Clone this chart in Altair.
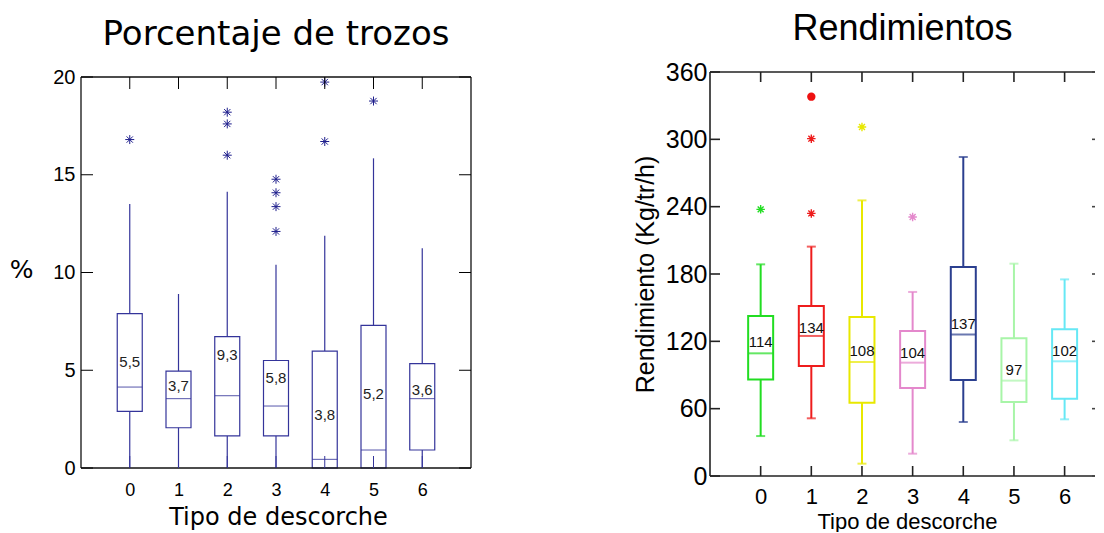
import altair as alt
import pandas as pd

cats = [0, 1, 2, 3, 4, 5, 6]

# ---- Left panel: Porcentaje de trozos ----
p_q1 = [2.9, 2.06, 1.64, 1.64, 0.0, 0.0, 0.92]
p_med = [4.14, 3.55, 3.7, 3.17, 0.44, 0.92, 3.55]
p_q3 = [7.9, 4.96, 6.72, 5.5, 5.98, 7.3, 5.34]
p_lo = [0, 0, 0, 0, 0, 0, 0]
p_hi = [13.5, 8.9, 14.13, 10.4, 11.88, 15.84, 11.24]
p_labels = ["5,5", "3,7", "9,3", "5,8", "3,8", "5,2", "3,6"]
p_label_y = [5.4, 4.2, 5.76, 4.6, 2.73, 3.8, 4.0]
p_out_cat = [0, 2, 2, 2, 3, 3, 3, 3, 4, 4, 5]
p_out_val = [16.8, 18.2, 17.6, 16.0, 14.77, 14.08, 13.37, 12.1, 19.74, 16.7, 18.77]
p_yticks = [0, 5, 10, 15, 20]

# ---- Right panel: Rendimientos ----
r_q1 = [86.1, 98.0, 65.3, 78.4, 85.5, 65.9, 68.9]
r_med = [109.3, 124.8, 101.6, 101.0, 126.2, 85.0, 102.2]
r_q3 = [142.6, 151.5, 141.7, 129.2, 186.2, 122.7, 130.7]
r_lo = [35.6, 51.4, 11.0, 19.9, 48.1, 31.8, 50.5]
r_hi = [188.6, 204.4, 245.6, 164.0, 284.3, 189.2, 175.2]
r_labels = ["114", "134", "108", "104", "137", "97", "102"]
r_label_y = [119.4, 132.2, 111.4, 109.3, 135.1, 94.5, 111.4]
r_colors = ["#22dd22", "#ee1c1c", "#e8e800", "#e488cc", "#2b3f8f", "#a8f5a8", "#66e8f5"]
r_out_cat = [0, 1, 1, 2, 3]
r_out_val = [237.6, 234.0, 300.6, 311.0, 230.8]
r_dot_cat = [1]
r_dot_val = [338.0]
r_yticks = [0, 60, 120, 180, 240, 300, 360]

ASTER = "M0,-1L0,1M-1,0L1,0M-0.7,-0.7L0.7,0.7M-0.7,0.7L0.7,-0.7"

# ---------------- left chart ----------------
LW, LH = 390, 396      # view size; data area starts 5px below view top
LTOP = 5
NAVY = "#34349a"
ldf = pd.DataFrame({"cat": cats, "q1": p_q1, "med": p_med, "q3": p_q3,
                    "lo": p_lo, "hi": p_hi, "lab": p_labels, "laby": p_label_y})
lout = pd.DataFrame({"cat": p_out_cat, "v": p_out_val})
lyt = pd.DataFrame({"v": p_yticks})
lct = pd.DataFrame({"cat": cats})
lfr = pd.DataFrame({"top": [p_yticks[-1]], "bot": [p_yticks[0]]})

lxs = alt.Scale(domain=[-1, 7], nice=False, zero=False, padding=0)
lys = alt.Scale(domain=[0, 20], nice=False, range=[LH, LTOP])

lx_axis = alt.Axis(values=cats, ticks=False, tickSize=0, domain=False, grid=False,
                   labelFontSize=18, labelFont="Liberation Sans", labelColor="black",
                   labelPadding=13, title="Tipo de descorche", titleFont="DejaVu Sans",
                   titleFontSize=24, titleFontWeight="normal", titleColor="black",
                   titleBaseline="middle", titleAlign="center", titleY=49, titleX=197)
ly_axis = alt.Axis(values=p_yticks, ticks=False, tickSize=0, domain=False, grid=False,
                   labelFontSize=20, labelFont="Liberation Sans", labelColor="black",
                   labelPadding=6, title="%", titleFont="DejaVu Sans", titleFontSize=25,
                   titleFontWeight="normal", titleColor="black", titleAngle=0,
                   titleAlign="center", titleBaseline="middle", titleX=-60, titleY=197)

lbox = alt.Chart(ldf).mark_bar(size=25, fillOpacity=0, stroke=NAVY, strokeWidth=1.2).encode(
    x=alt.X("cat:Q", scale=lxs, axis=lx_axis),
    y=alt.Y("q1:Q", scale=lys, axis=ly_axis),
    y2="q3:Q")
lmed = alt.Chart(ldf).mark_tick(orient="horizontal", size=25, thickness=1.2, color=NAVY).encode(
    x=alt.X("cat:Q", scale=lxs), y=alt.Y("med:Q", scale=lys))
lwu = alt.Chart(ldf).mark_rule(color=NAVY, strokeWidth=1.2).encode(
    x=alt.X("cat:Q", scale=lxs), y=alt.Y("q3:Q", scale=lys), y2="hi:Q")
lwl = alt.Chart(ldf).mark_rule(color=NAVY, strokeWidth=1.2).encode(
    x=alt.X("cat:Q", scale=lxs), y=alt.Y("lo:Q", scale=lys), y2="q1:Q")
lol = alt.Chart(lout).mark_point(shape=ASTER, size=81, filled=False, color="#1e1e8c",
                                 strokeWidth=1.0, opacity=1).encode(
    x=alt.X("cat:Q", scale=lxs), y=alt.Y("v:Q", scale=lys))
ltxt = alt.Chart(ldf).mark_text(font="Liberation Sans", fontSize=15, color="#222").encode(
    x=alt.X("cat:Q", scale=lxs), y=alt.Y("laby:Q", scale=lys), text="lab:N")
# frame
lft = alt.Chart(lfr).mark_rule(color="#111", strokeWidth=1.3).encode(
    y=alt.Y("top:Q", scale=lys), x=alt.value(0), x2=alt.value(LW))
lfb = alt.Chart(lfr).mark_rule(color="#111", strokeWidth=1.3).encode(
    y=alt.Y("bot:Q", scale=lys), x=alt.value(0), x2=alt.value(LW))
lfl = alt.Chart(lfr).mark_rule(color="#111", strokeWidth=1.3).encode(
    y=alt.Y("bot:Q", scale=lys), y2="top:Q", x=alt.value(0))
lfrr = alt.Chart(lfr).mark_rule(color="#111", strokeWidth=1.3).encode(
    y=alt.Y("bot:Q", scale=lys), y2="top:Q", x=alt.value(LW))
# inward ticks
ltt = alt.Chart(lct).mark_rule(color="black", strokeWidth=1).encode(
    x=alt.X("cat:Q", scale=lxs), y=alt.value(LTOP), y2=alt.value(LTOP + 12))
ltb = alt.Chart(lct).mark_rule(color=NAVY, strokeWidth=1).encode(
    x=alt.X("cat:Q", scale=lxs), y=alt.value(LH - 12), y2=alt.value(LH))
ltl = alt.Chart(lyt).mark_rule(color="black", strokeWidth=1).encode(
    y=alt.Y("v:Q", scale=lys), x=alt.value(0), x2=alt.value(12))
ltr = alt.Chart(lyt).mark_rule(color="black", strokeWidth=1).encode(
    y=alt.Y("v:Q", scale=lys), x=alt.value(LW - 12), x2=alt.value(LW))

left = alt.layer(lbox, lwu, lwl, lmed, lol, ltxt, lft, lfb, lfl, lfrr,
                 ltt, ltb, ltl, ltr).properties(
    width=LW, height=LH,
    title=alt.TitleParams("Porcentaje de trozos", font="DejaVu Sans", fontSize=34,
                          fontWeight="normal", color="black", anchor="middle", offset=15))

# ---------------- right chart ----------------
RW, RH = 385, 404     # visible part of the view (the axis frame itself runs past the page edge)
RXMAX = 6.6
rdf = pd.DataFrame({"cat": cats, "q1": r_q1, "med": r_med, "q3": r_q3, "lo": r_lo,
                    "hi": r_hi, "lab": r_labels, "laby": r_label_y, "col": r_colors})
rout = pd.DataFrame({"cat": r_out_cat, "v": r_out_val,
                     "col": [r_colors[c] for c in r_out_cat]})
rdot = pd.DataFrame({"cat": r_dot_cat, "v": r_dot_val})
ryt = pd.DataFrame({"v": r_yticks})
rct = pd.DataFrame({"cat": cats})
rfr = pd.DataFrame({"top": [r_yticks[-1]], "bot": [r_yticks[0]]})

rxs = alt.Scale(domain=[-1, RXMAX], nice=False, zero=False, padding=0)
rys = alt.Scale(domain=[0, 360], nice=False)
col = alt.Color("col:N", scale=None)

rx_axis = alt.Axis(values=cats, ticks=False, tickSize=0, domain=False, grid=False,
                   labelFontSize=22, labelFont="Liberation Sans", labelColor="black",
                   labelPadding=10, title="Tipo de descorche", titleFont="Liberation Sans",
                   titleFontSize=22, titleFontWeight="normal", titleColor="black",
                   titleBaseline="middle", titleAlign="center", titleY=45, titleX=197)
ry_axis = alt.Axis(values=r_yticks, ticks=False, tickSize=0, domain=False, grid=False,
                   labelFontSize=25, labelFont="Liberation Sans", labelColor="black",
                   labelPadding=3, title="Rendimiento (Kg/tr/h)", titleFont="Liberation Sans",
                   titleFontSize=25, titleFontWeight="normal", titleColor="black",
                   titleAngle=270, titleAlign="center", titleBaseline="middle",
                   titleX=-65, titleY=202)

rbox = alt.Chart(rdf).mark_bar(size=25, fillOpacity=0, strokeWidth=2).encode(
    x=alt.X("cat:Q", scale=rxs, axis=rx_axis),
    y=alt.Y("q1:Q", scale=rys, axis=ry_axis),
    y2="q3:Q", stroke=alt.Stroke("col:N", scale=None))
rmed = alt.Chart(rdf).mark_tick(orient="horizontal", size=25, thickness=2).encode(
    x=alt.X("cat:Q", scale=rxs), y=alt.Y("med:Q", scale=rys), color=col)
rwu = alt.Chart(rdf).mark_rule(strokeWidth=2).encode(
    x=alt.X("cat:Q", scale=rxs), y=alt.Y("q3:Q", scale=rys), y2="hi:Q", color=col)
rwl = alt.Chart(rdf).mark_rule(strokeWidth=2).encode(
    x=alt.X("cat:Q", scale=rxs), y=alt.Y("lo:Q", scale=rys), y2="q1:Q", color=col)
rcu = alt.Chart(rdf).mark_tick(orient="horizontal", size=9, thickness=2).encode(
    x=alt.X("cat:Q", scale=rxs), y=alt.Y("hi:Q", scale=rys), color=col)
rcl = alt.Chart(rdf).mark_tick(orient="horizontal", size=9, thickness=2).encode(
    x=alt.X("cat:Q", scale=rxs), y=alt.Y("lo:Q", scale=rys), color=col)
rol = alt.Chart(rout).mark_point(shape=ASTER, size=72, filled=False, strokeWidth=1.4,
                                 opacity=1).encode(
    x=alt.X("cat:Q", scale=rxs), y=alt.Y("v:Q", scale=rys), color=col)
rdt = alt.Chart(rdot).mark_point(shape="circle", size=70, filled=True, color="#ee1111",
                                 opacity=1).encode(
    x=alt.X("cat:Q", scale=rxs), y=alt.Y("v:Q", scale=rys))
rtxt = alt.Chart(rdf).mark_text(font="Liberation Sans", fontSize=15, color="#111").encode(
    x=alt.X("cat:Q", scale=rxs), y=alt.Y("laby:Q", scale=rys), text="lab:N")
# frame (its right side lies beyond the page edge)
rft = alt.Chart(rfr).mark_rule(color="#222", strokeWidth=1.6).encode(
    y=alt.Y("top:Q", scale=rys), x=alt.value(0), x2=alt.value(RW))
rfb = alt.Chart(rfr).mark_rule(color="#222", strokeWidth=1.6).encode(
    y=alt.Y("bot:Q", scale=rys), x=alt.value(0), x2=alt.value(RW))
rfl = alt.Chart(rfr).mark_rule(color="#222", strokeWidth=1.6).encode(
    y=alt.Y("bot:Q", scale=rys), y2="top:Q", x=alt.value(0))
# inward ticks
rtt = alt.Chart(rct).mark_rule(color="#222", strokeWidth=1.6).encode(
    x=alt.X("cat:Q", scale=rxs), y=alt.value(0), y2=alt.value(10))
rtb = alt.Chart(rct).mark_rule(color="#222", strokeWidth=1.6).encode(
    x=alt.X("cat:Q", scale=rxs), y=alt.value(RH - 10), y2=alt.value(RH))
rtl = alt.Chart(ryt).mark_rule(color="#222", strokeWidth=1.6).encode(
    y=alt.Y("v:Q", scale=rys), x=alt.value(0), x2=alt.value(10))
rtr = alt.Chart(ryt).mark_rule(color="#444", strokeWidth=1.6).encode(
    y=alt.Y("v:Q", scale=rys), x=alt.value(RW - 3), x2=alt.value(RW))

right = alt.layer(rbox, rwu, rwl, rcu, rcl, rmed, rol, rdt, rtxt, rft, rfb, rfl,
                  rtt, rtb, rtl, rtr).properties(
    width=RW, height=RH,
    title=alt.TitleParams("Rendimientos", font="Liberation Sans", fontSize=36,
                          fontWeight="normal", color="black", anchor="middle", offset=12))

chart = alt.hconcat(left, right, spacing=161).configure_view(
    strokeWidth=0, stroke="transparent"
).properties(padding={"left": 1, "top": 3, "right": 0, "bottom": 0})

chart.save("out.html", embed_options={"renderer": "svg", "actions": False})
